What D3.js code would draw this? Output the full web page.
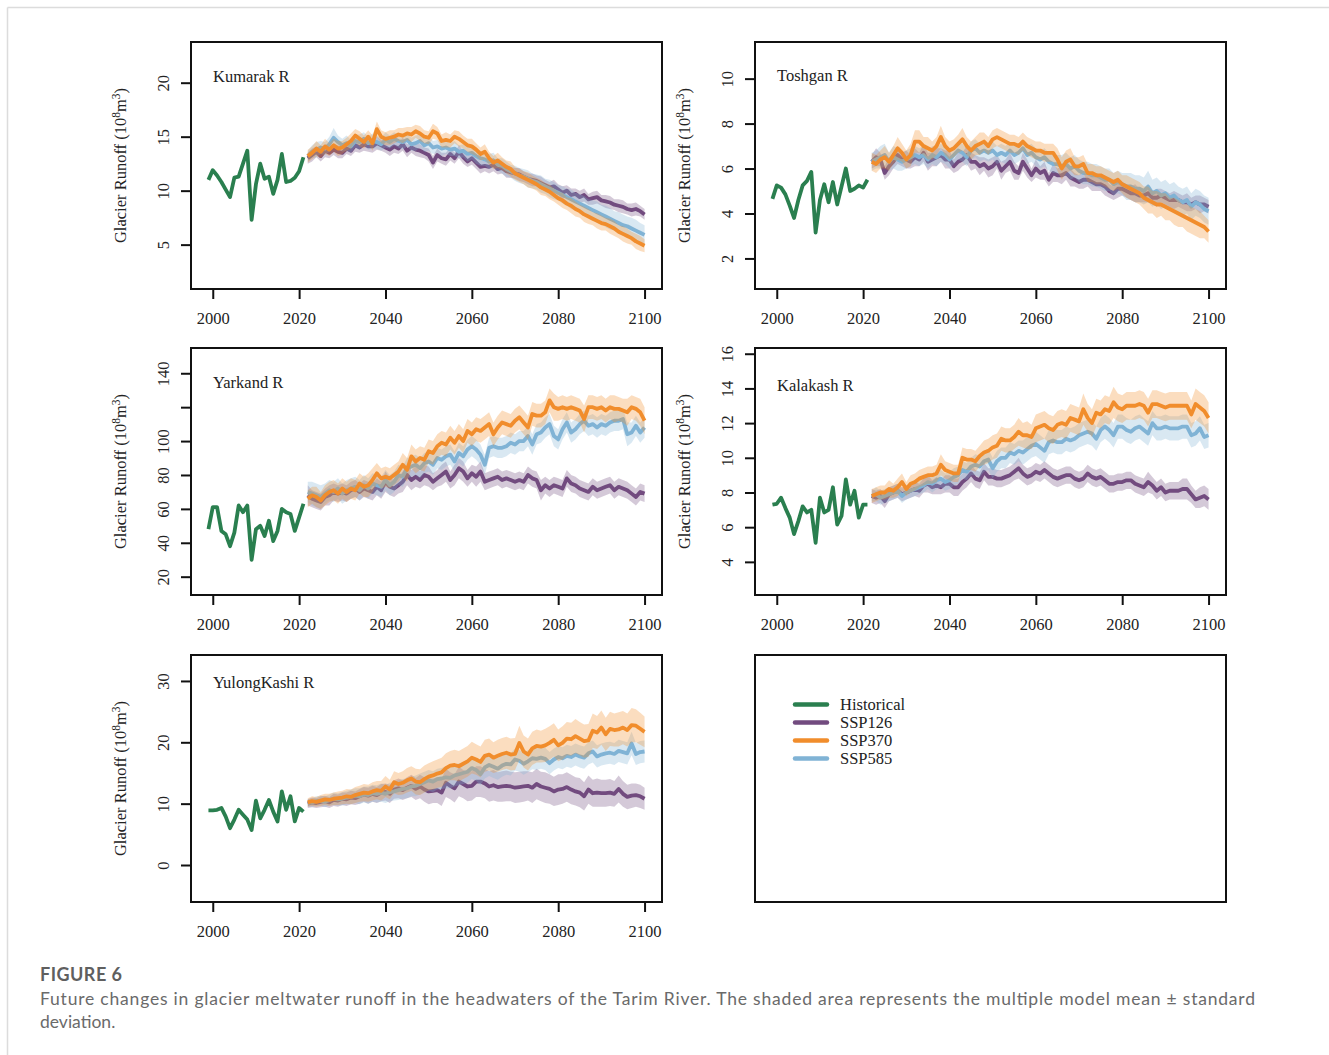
<!DOCTYPE html>
<html>
<head>
<meta charset="utf-8">
<script src="https://cdn.jsdelivr.net/npm/d3@7"></script>
<style>
  body { margin: 0; background: #fff; }
</style>
</head>
<body>
<div id="figure"></div>
<script>
// Years
const histYears = d3.range(1999, 2022);
const futureYears = d3.range(2022, 2101);
const xTicks = [2000, 2020, 2040, 2060, 2080, 2100];

const scenarios = ["SSP126", "SSP370", "SSP585"];
const legendLabels = ["Historical", "SSP126", "SSP370", "SSP585"];

// Kumarak R
const kumarakHist = [11.0, 11.9, 11.4, 10.8, 10.1, 9.4, 11.2, 11.3, 12.5, 13.7, 7.3, 10.6, 12.5, 11.1, 11.3, 9.7, 11.0, 13.4, 10.8, 10.9, 11.2, 11.8, 13.1];
const kumarak126 = [13.0, 13.3, 13.6, 13.2, 13.7, 13.5, 13.8, 13.6, 13.5, 13.9,
  13.7, 14.2, 14.0, 14.3, 14.1, 14.1, 14.4, 14.2, 14.0, 13.8,
  14.1, 13.9, 14.3, 13.7, 14.0, 13.8, 13.7, 13.5, 13.3, 12.6,
  13.3, 13.0, 12.9, 13.4, 13.0, 13.6, 13.1, 12.7, 13.0, 12.6,
  12.2, 12.3, 12.2, 12.4, 12.0, 12.1, 11.8, 11.7, 11.6, 11.5,
  11.3, 11.1, 11.0, 10.9, 10.7, 10.5, 10.3, 10.4, 10.1, 9.8,
  10.0, 9.6, 9.7, 9.4, 9.6, 9.2, 9.3, 9.4, 9.1, 9.0,
  8.9, 8.7, 8.6, 8.5, 8.3, 8.2, 8.3, 8.1, 7.8];
const kumarak370 = [13.2, 13.5, 13.9, 13.6, 14.1, 13.8, 14.2, 13.9, 14.0, 14.3,
  14.6, 15.1, 14.8, 14.5, 15.0, 14.4, 15.7, 15.0, 14.8, 14.9,
  15.0, 15.2, 15.1, 15.3, 15.2, 15.5, 15.3, 15.0, 14.9, 15.5,
  15.3, 14.6, 14.7, 14.6, 15.0, 14.8, 14.5, 14.2, 14.1, 13.8,
  13.4, 13.6, 13.0, 12.6, 12.8, 12.5, 12.2, 12.0, 11.6, 11.4,
  11.2, 11.0, 10.8, 10.6, 10.3, 10.1, 9.9, 9.6, 9.3, 9.1,
  8.8, 8.6, 8.3, 8.1, 7.8, 7.6, 7.4, 7.2, 7.0, 6.9,
  6.7, 6.5, 6.2, 6.0, 5.8, 5.6, 5.3, 5.1, 4.9];
const kumarak585 = [13.2, 13.6, 13.8, 14.0, 13.9, 14.3, 14.9, 14.5, 14.2, 14.4,
  14.1, 14.6, 14.5, 14.8, 14.4, 14.6, 14.5, 14.3, 14.7, 14.5,
  14.8, 14.6, 14.5, 14.7, 14.3, 14.4, 14.6, 14.2, 14.4, 14.0,
  14.1, 13.9, 14.0, 13.8, 13.9, 13.6, 13.7, 13.4, 13.5, 13.2,
  13.0, 12.9, 12.7, 12.8, 12.4, 12.3, 12.0, 11.8, 11.6, 11.4,
  11.3, 11.1, 10.9, 10.8, 10.6, 10.4, 10.2, 10.0, 9.8, 9.6,
  9.4, 9.2, 9.0, 8.8, 8.6, 8.4, 8.2, 8.0, 7.8, 7.6,
  7.4, 7.2, 7.0, 6.8, 6.7, 6.5, 6.3, 6.1, 5.9];
const kumarakSd126 = [0.5, 0.6, 0.5, 0.5, 0.6, 0.5, 0.5, 0.6, 0.5, 0.5,
  0.5, 0.6, 0.5, 0.6, 0.5, 0.6, 0.6, 0.5, 0.5, 0.6,
  0.6, 0.5, 0.6, 0.6, 0.5, 0.6, 0.6, 0.5, 0.6, 0.6,
  0.6, 0.5, 0.6, 0.6, 0.5, 0.6, 0.6, 0.5, 0.6, 0.6,
  0.6, 0.5, 0.6, 0.6, 0.5, 0.5, 0.6, 0.5, 0.5, 0.6,
  0.5, 0.5, 0.6, 0.5, 0.6, 0.5, 0.5, 0.6, 0.5, 0.6,
  0.5, 0.6, 0.5, 0.6, 0.6, 0.5, 0.6, 0.6, 0.5, 0.6,
  0.6, 0.5, 0.6, 0.6, 0.5, 0.6, 0.6, 0.5, 0.5];
const kumarakSd370 = [0.6, 0.6, 0.7, 0.6, 0.7, 0.6, 0.6, 0.7, 0.6, 0.6,
  0.7, 0.6, 0.7, 0.6, 0.6, 0.7, 0.7, 0.6, 0.6, 0.7,
  0.6, 0.6, 0.7, 0.6, 0.7, 0.6, 0.7, 0.6, 0.6, 0.7,
  0.6, 0.6, 0.7, 0.6, 0.6, 0.7, 0.6, 0.6, 0.7, 0.6,
  0.6, 0.7, 0.6, 0.6, 0.7, 0.6, 0.6, 0.7, 0.6, 0.6,
  0.6, 0.7, 0.6, 0.6, 0.7, 0.6, 0.7, 0.6, 0.6, 0.7,
  0.6, 0.7, 0.7, 0.6, 0.7, 0.7, 0.6, 0.7, 0.7, 0.6,
  0.7, 0.7, 0.6, 0.7, 0.7, 0.6, 0.7, 0.7, 0.6];
const kumarakSd585 = [0.5, 0.6, 0.7, 0.6, 0.6, 0.7, 0.9, 0.6, 0.6, 0.7,
  0.6, 0.6, 0.7, 0.6, 0.6, 0.7, 0.6, 0.6, 0.7, 0.6,
  0.6, 0.6, 0.7, 0.6, 0.6, 0.7, 0.6, 0.6, 0.7, 0.6,
  0.6, 0.7, 0.6, 0.6, 0.7, 0.6, 0.6, 0.7, 0.6, 0.7,
  0.7, 0.6, 0.7, 0.7, 0.6, 0.7, 0.7, 0.6, 0.7, 0.7,
  0.7, 0.8, 0.7, 0.7, 0.8, 0.7, 0.8, 0.8, 0.7, 0.8,
  0.8, 0.9, 0.8, 0.9, 0.9, 0.8, 0.9, 1.0, 0.9, 1.0,
  1.0, 0.9, 1.0, 1.0, 0.9, 1.0, 1.0, 0.9, 0.9];

// Toshgan R
const toshganHist = [4.65, 5.25, 5.15, 4.85, 4.35, 3.8, 4.6, 5.25, 5.45, 5.85, 3.15, 4.6, 5.3, 4.5, 5.4, 4.4, 5.2, 6.0, 5.0, 5.1, 5.25, 5.15, 5.5];
const toshgan126 = [6.3, 6.5, 6.4, 5.8, 6.1, 6.3, 6.6, 6.4, 6.4, 6.3,
  6.5, 6.4, 6.7, 6.3, 6.4, 6.5, 6.6, 6.4, 6.4, 6.1,
  6.3, 6.4, 6.6, 6.3, 6.3, 6.1, 6.2, 6.0, 6.1, 6.3,
  5.9, 6.1, 6.3, 5.9, 5.8, 6.3, 6.0, 5.7, 6.0, 5.8,
  5.9, 5.5, 5.8, 5.7, 5.7, 5.8, 5.6, 5.5, 5.4, 5.5,
  5.5, 5.4, 5.3, 5.3, 5.2, 5.0, 4.9, 5.1, 5.1, 5.0,
  4.9, 4.9, 4.8, 4.8, 4.9, 4.7, 4.7, 4.8, 4.7, 4.6,
  4.6, 4.6, 4.5, 4.5, 4.4, 4.5, 4.4, 4.4, 4.3];
const toshgan370 = [6.3, 6.2, 6.4, 6.5, 6.3, 6.6, 6.9, 6.7, 6.4, 6.6,
  7.2, 7.2, 7.0, 6.9, 6.8, 7.0, 7.4, 7.0, 6.8, 6.9,
  7.1, 7.3, 7.0, 6.8, 7.0, 7.1, 7.2, 7.0, 7.3, 7.4,
  7.3, 7.2, 7.1, 7.1, 7.0, 7.2, 7.0, 6.9, 6.8, 6.8,
  6.7, 6.7, 6.7, 6.4, 6.0, 6.3, 6.4, 6.1, 6.1, 6.2,
  5.8, 5.8, 5.7, 5.7, 5.6, 5.5, 5.4, 5.5, 5.3, 5.2,
  5.1, 5.0, 4.9, 4.7, 4.6, 4.5, 4.4, 4.4, 4.3, 4.2,
  4.1, 4.0, 3.9, 3.8, 3.7, 3.6, 3.5, 3.4, 3.2];
const toshgan585 = [6.3, 6.4, 6.5, 6.6, 6.3, 6.5, 6.4, 6.3, 6.4, 6.5,
  6.6, 6.5, 6.6, 6.4, 6.6, 6.5, 6.7, 6.6, 6.4, 6.6,
  6.8, 6.7, 6.5, 6.8, 6.9, 6.7, 6.8, 6.7, 6.8, 6.6,
  6.7, 6.6, 6.8, 6.6, 6.7, 6.9, 6.6, 6.7, 6.5, 6.4,
  6.5, 6.3, 6.2, 6.2, 6.1, 6.2, 6.0, 6.1, 5.9, 5.8,
  5.8, 5.7, 5.7, 5.6, 5.5, 5.5, 5.3, 5.4, 5.3, 5.2,
  5.2, 5.1, 5.1, 5.0, 5.2, 4.9, 5.0, 4.8, 4.9, 4.7,
  4.8, 4.6, 4.5, 4.6, 4.3, 4.5, 4.4, 4.2, 4.1];
const toshganSd126 = [0.3, 0.4, 0.3, 0.3, 0.4, 0.3, 0.4, 0.3, 0.4, 0.3,
  0.4, 0.3, 0.4, 0.4, 0.3, 0.4, 0.3, 0.4, 0.4, 0.3,
  0.4, 0.3, 0.4, 0.4, 0.3, 0.4, 0.3, 0.4, 0.4, 0.3,
  0.4, 0.3, 0.4, 0.4, 0.3, 0.4, 0.4, 0.3, 0.4, 0.3,
  0.4, 0.3, 0.4, 0.3, 0.4, 0.3, 0.4, 0.3, 0.3, 0.4,
  0.3, 0.4, 0.3, 0.3, 0.4, 0.3, 0.3, 0.4, 0.3, 0.3,
  0.3, 0.4, 0.3, 0.3, 0.4, 0.3, 0.4, 0.3, 0.3, 0.3,
  0.4, 0.3, 0.3, 0.4, 0.3, 0.3, 0.4, 0.3, 0.3];
const toshganSd370 = [0.4, 0.4, 0.4, 0.5, 0.4, 0.4, 0.5, 0.4, 0.4, 0.5,
  0.5, 0.5, 0.4, 0.5, 0.4, 0.4, 0.5, 0.4, 0.4, 0.4,
  0.4, 0.5, 0.4, 0.4, 0.4, 0.5, 0.4, 0.4, 0.4, 0.4,
  0.4, 0.4, 0.4, 0.4, 0.4, 0.4, 0.4, 0.4, 0.4, 0.4,
  0.4, 0.4, 0.4, 0.5, 0.5, 0.5, 0.5, 0.4, 0.4, 0.4,
  0.4, 0.4, 0.4, 0.4, 0.4, 0.4, 0.4, 0.4, 0.4, 0.5,
  0.5, 0.5, 0.5, 0.5, 0.6, 0.5, 0.6, 0.5, 0.6, 0.5,
  0.6, 0.6, 0.5, 0.6, 0.6, 0.6, 0.6, 0.5, 0.5];
const toshganSd585 = [0.4, 0.4, 0.5, 0.5, 0.4, 0.5, 0.5, 0.4, 0.4, 0.4,
  0.4, 0.4, 0.4, 0.4, 0.4, 0.4, 0.4, 0.4, 0.4, 0.4,
  0.4, 0.4, 0.4, 0.4, 0.4, 0.4, 0.4, 0.4, 0.4, 0.4,
  0.4, 0.4, 0.4, 0.4, 0.4, 0.4, 0.4, 0.4, 0.4, 0.4,
  0.4, 0.4, 0.4, 0.4, 0.5, 0.5, 0.5, 0.5, 0.5, 0.5,
  0.5, 0.5, 0.5, 0.5, 0.5, 0.5, 0.5, 0.5, 0.5, 0.6,
  0.6, 0.6, 0.6, 0.6, 0.7, 0.6, 0.6, 0.6, 0.6, 0.6,
  0.6, 0.6, 0.6, 0.6, 0.6, 0.6, 0.6, 0.6, 0.6];

// Yarkand R
const yarkandHist = [48, 61, 61, 47, 45, 38, 46, 62, 58, 62, 30, 48, 50, 44, 53, 41, 47, 60, 58, 57, 47, 55, 63];
const yarkand126 = [68, 66, 65, 64, 67, 68, 70, 69, 70, 69,
  71, 72, 70, 72, 71, 70, 73, 71, 76, 73,
  72, 74, 76, 80, 77, 79, 77, 80, 79, 76,
  78, 80, 82, 77, 80, 84, 82, 78, 81, 79,
  82, 76, 77, 78, 79, 77, 78, 77, 76, 77,
  76, 80, 78, 77, 71, 74, 72, 74, 73, 72,
  78, 75, 74, 72, 71, 70, 73, 71, 72, 73,
  74, 71, 73, 72, 71, 69, 67, 70, 69];
const yarkand370 = [66, 68, 67, 65, 68, 70, 71, 69, 72, 70,
  72, 71, 75, 73, 74, 77, 81, 78, 79, 78,
  80, 82, 86, 83, 91, 88, 90, 89, 94, 93,
  97, 99, 98, 102, 99, 103, 100, 106, 104, 107,
  106, 108, 110, 104, 108, 111, 110, 109, 112, 114,
  111, 108, 116, 115, 115, 117, 124, 120, 119, 120,
  119, 120, 119, 118, 113, 120, 120, 119, 120, 118,
  120, 119, 119, 118, 117, 120, 119, 117, 112];
const yarkand585 = [70, 69, 68, 67, 69, 71, 70, 72, 69, 71,
  72, 73, 71, 74, 72, 75, 74, 73, 77, 74,
  76, 80, 79, 84, 85, 86, 84, 87, 88, 86,
  90, 89, 91, 92, 88, 93, 91, 95, 97, 95,
  92, 86, 96, 97, 96, 96, 97, 99, 98, 100,
  100, 103, 98, 104, 105, 108, 110, 103, 101, 107,
  111, 105, 107, 110, 112, 109, 110, 108, 110, 109,
  111, 112, 112, 113, 104, 105, 109, 105, 108];
const yarkandSd126 = [6, 5, 5, 5, 5, 6, 5, 5, 5, 5,
  5, 5, 5, 5, 5, 5, 5, 5, 6, 5,
  5, 5, 6, 6, 6, 6, 5, 6, 6, 5,
  5, 6, 6, 5, 6, 6, 6, 5, 5, 6,
  6, 5, 5, 5, 5, 5, 5, 5, 5, 5,
  5, 5, 5, 5, 6, 5, 5, 5, 5, 5,
  5, 5, 5, 5, 5, 5, 5, 5, 5, 5,
  5, 5, 5, 5, 5, 5, 5, 5, 5];
const yarkandSd370 = [5, 5, 6, 5, 6, 6, 6, 6, 6, 6,
  6, 6, 6, 6, 7, 7, 6, 6, 6, 6,
  6, 6, 7, 7, 7, 7, 7, 7, 7, 7,
  7, 7, 7, 7, 7, 7, 7, 7, 7, 7,
  7, 7, 7, 7, 7, 7, 7, 7, 7, 7,
  7, 7, 7, 7, 7, 7, 7, 8, 7, 7,
  7, 7, 7, 7, 8, 7, 7, 7, 7, 7,
  7, 8, 7, 7, 8, 7, 7, 8, 8];
const yarkandSd585 = [6, 7, 7, 7, 6, 6, 6, 6, 6, 6,
  6, 6, 6, 6, 6, 6, 6, 6, 6, 6,
  6, 6, 6, 6, 6, 6, 6, 6, 6, 6,
  6, 6, 6, 6, 6, 6, 6, 6, 6, 6,
  6, 6, 6, 6, 6, 6, 6, 6, 6, 6,
  6, 6, 6, 6, 6, 6, 6, 6, 6, 6,
  6, 6, 6, 6, 6, 6, 6, 6, 6, 6,
  6, 6, 6, 6, 7, 6, 6, 6, 6];

// Kalakash R
const kalakashHist = [7.3, 7.35, 7.7, 7.1, 6.55, 5.6, 6.35, 7.2, 6.85, 7.0, 5.1, 7.7, 6.85, 7.0, 8.3, 6.15, 6.65, 8.75, 7.3, 8.1, 6.55, 7.3, 7.3];
const kalakash126 = [7.8, 7.7, 7.8, 7.5, 7.9, 8.0, 8.1, 7.9, 8.0, 8.1,
  8.2, 8.1, 8.4, 8.5, 8.3, 8.4, 8.3, 8.5, 8.5, 8.3,
  8.3, 8.6, 8.8, 9.1, 8.8, 8.7, 9.2, 8.9, 8.9, 8.8,
  8.8, 8.9, 9.0, 9.2, 9.4, 9.1, 8.9, 9.0, 9.2, 9.1,
  9.3, 9.1, 8.9, 8.8, 8.9, 9.0, 9.0, 8.8, 8.7, 8.8,
  9.1, 8.9, 8.8, 8.9, 8.7, 8.5, 8.5, 8.6, 8.6, 8.7,
  8.7, 8.5, 8.4, 8.3, 8.6, 8.4, 8.1, 8.3, 8.0, 8.1,
  8.1, 8.1, 8.2, 8.2, 7.9, 7.6, 7.7, 7.8, 7.6];
const kalakash370 = [7.8, 7.9, 8.0, 8.0, 8.2, 8.1, 8.3, 8.6, 8.2, 8.5,
  8.6, 8.8, 8.9, 9.0, 9.0, 9.1, 9.6, 9.3, 9.2, 9.1,
  9.1, 10.0, 9.9, 9.9, 9.8, 10.1, 10.3, 10.4, 10.6, 10.7,
  11.1, 11.0, 11.0, 11.2, 11.5, 11.3, 11.3, 11.2, 11.7, 11.8,
  11.9, 11.7, 11.6, 11.9, 12.0, 11.9, 12.3, 12.2, 12.1, 12.8,
  12.3, 12.0, 12.6, 12.5, 12.8, 12.7, 13.2, 12.9, 12.8, 13.0,
  13.0, 13.0, 13.1, 13.0, 12.6, 13.1, 13.1, 13.0, 12.9, 13.0,
  13.0, 13.0, 13.0, 13.0, 12.5, 13.1, 12.9, 12.7, 12.3];
const kalakash585 = [7.8, 7.9, 7.7, 7.8, 7.9, 8.0, 8.1, 7.8, 8.0, 8.1,
  8.2, 8.3, 8.4, 8.6, 8.5, 8.7, 8.8, 8.6, 8.7, 8.9,
  9.0, 9.3, 9.2, 9.5, 9.6, 9.5, 9.8, 9.9, 9.4, 9.8,
  10.0, 10.0, 10.3, 10.2, 10.4, 10.3, 10.5, 10.7, 10.8, 10.6,
  10.4, 10.9, 11.0, 10.9, 10.9, 11.1, 11.0, 11.1, 11.3, 11.4,
  11.5, 11.4, 11.1, 11.6, 11.8, 11.6, 11.3, 11.8, 11.8, 11.6,
  11.5, 11.7, 11.8, 11.6, 11.4, 12.0, 11.7, 11.7, 11.8, 11.7,
  11.7, 11.7, 11.8, 11.8, 11.3, 11.4, 11.7, 11.2, 11.3];
const kalakashSd126 = [0.4, 0.4, 0.4, 0.4, 0.4, 0.4, 0.4, 0.4, 0.4, 0.4,
  0.4, 0.4, 0.4, 0.5, 0.4, 0.5, 0.4, 0.5, 0.5, 0.5,
  0.5, 0.5, 0.5, 0.5, 0.5, 0.5, 0.5, 0.5, 0.5, 0.5,
  0.5, 0.5, 0.5, 0.5, 0.6, 0.5, 0.5, 0.5, 0.5, 0.5,
  0.5, 0.5, 0.5, 0.5, 0.5, 0.5, 0.5, 0.5, 0.5, 0.5,
  0.5, 0.5, 0.5, 0.5, 0.5, 0.5, 0.5, 0.5, 0.5, 0.5,
  0.5, 0.5, 0.5, 0.5, 0.6, 0.5, 0.5, 0.5, 0.5, 0.5,
  0.5, 0.5, 0.6, 0.6, 0.5, 0.5, 0.6, 0.6, 0.6];
const kalakashSd370 = [0.4, 0.4, 0.4, 0.4, 0.5, 0.4, 0.5, 0.5, 0.4, 0.5,
  0.5, 0.5, 0.5, 0.5, 0.5, 0.5, 0.6, 0.5, 0.5, 0.5,
  0.5, 0.6, 0.6, 0.6, 0.6, 0.6, 0.7, 0.7, 0.7, 0.7,
  0.7, 0.7, 0.7, 0.7, 0.8, 0.7, 0.8, 0.7, 0.8, 0.8,
  0.8, 0.8, 0.8, 0.8, 0.8, 0.8, 0.8, 0.8, 0.8, 0.9,
  0.8, 0.8, 0.8, 0.8, 0.8, 0.8, 0.9, 0.8, 0.8, 0.8,
  0.8, 0.8, 0.8, 0.8, 0.8, 0.8, 0.8, 0.8, 0.8, 0.8,
  0.8, 0.8, 0.8, 0.8, 0.8, 0.9, 0.9, 0.9, 0.9];
const kalakashSd585 = [0.3, 0.4, 0.4, 0.4, 0.4, 0.4, 0.4, 0.4, 0.4, 0.4,
  0.4, 0.4, 0.4, 0.4, 0.5, 0.5, 0.5, 0.5, 0.5, 0.5,
  0.5, 0.5, 0.5, 0.5, 0.6, 0.6, 0.6, 0.6, 0.6, 0.6,
  0.6, 0.6, 0.6, 0.6, 0.6, 0.7, 0.7, 0.7, 0.7, 0.7,
  0.7, 0.7, 0.7, 0.7, 0.7, 0.7, 0.7, 0.7, 0.7, 0.7,
  0.7, 0.7, 0.7, 0.7, 0.7, 0.7, 0.7, 0.7, 0.7, 0.7,
  0.7, 0.7, 0.7, 0.7, 0.7, 0.7, 0.7, 0.7, 0.7, 0.7,
  0.7, 0.7, 0.7, 0.7, 0.7, 0.7, 0.7, 0.7, 0.7];

// YulongKashi R
const yulongHist = [8.9, 8.9, 9.0, 9.3, 7.9, 6.0, 7.4, 9.0, 8.2, 7.4, 5.7, 10.5, 7.6, 9.0, 10.6, 8.7, 7.1, 12.0, 9.0, 11.2, 7.1, 9.3, 8.7];
const yulong126 = [10.0, 10.2, 10.1, 10.3, 10.4, 10.2, 10.6, 10.5, 10.8, 10.7,
  11.0, 10.9, 11.2, 11.5, 11.3, 11.6, 11.4, 11.8, 11.9, 11.6,
  12.3, 12.5, 12.2, 12.6, 12.9, 12.4, 12.8, 12.3, 12.0, 12.1,
  12.2, 11.8, 13.4, 12.9, 12.5, 13.6, 13.2, 12.8, 12.9, 13.6,
  13.6, 13.3, 12.8, 13.0, 12.7, 12.8, 12.9, 12.8, 12.6, 12.7,
  12.8, 12.9, 12.6, 13.2, 12.8, 12.6, 12.4, 12.0, 12.3, 12.4,
  12.7, 12.3, 12.0, 11.8, 11.2, 12.3, 11.7, 11.8, 11.7, 11.7,
  11.8, 11.6, 12.4, 11.6, 11.1, 11.3, 11.4, 11.2, 10.8];
const yulong370 = [10.2, 10.4, 10.3, 10.5, 10.7, 10.6, 10.8, 10.9, 11.0, 11.2,
  11.1, 11.4, 11.6, 11.8, 11.7, 12.0, 12.2, 12.1, 12.8, 12.3,
  13.5, 13.2, 13.4, 13.8, 14.1, 13.6, 13.5, 14.0, 14.4, 14.6,
  14.9, 15.1, 15.8, 16.2, 16.3, 16.1, 16.5, 16.9, 17.5, 17.2,
  16.8, 17.8, 18.0, 17.5, 17.8, 18.1, 18.3, 18.0, 18.1, 19.9,
  18.5, 18.0, 19.0, 19.4, 19.3, 19.5, 19.9, 20.4, 19.5, 19.9,
  20.6, 20.5, 21.0, 20.6, 20.2, 20.3, 21.9, 21.6, 22.4, 21.3,
  22.2, 22.0, 22.1, 22.4, 22.0, 22.8, 22.7, 22.2, 21.7];
const yulong585 = [10.1, 10.2, 10.4, 10.5, 10.3, 10.6, 10.8, 10.7, 10.8, 11.0,
  11.1, 11.3, 11.2, 11.5, 11.4, 11.7, 11.6, 11.8, 11.6, 11.9,
  12.0, 12.2, 12.4, 12.5, 12.8, 12.9, 13.2, 13.5, 13.8, 13.6,
  14.0, 14.1, 14.3, 14.2, 14.6, 14.8, 15.0, 15.2, 15.8, 15.5,
  14.8, 15.9, 16.3, 16.0, 15.7, 16.2, 16.5, 16.4, 17.2, 17.0,
  16.5, 16.9, 17.4, 17.3, 17.5, 17.3, 16.6, 17.2, 17.6, 17.4,
  17.8, 17.6, 18.0, 17.7, 17.5, 18.2, 18.5, 17.7, 18.0, 18.2,
  18.3, 18.1, 18.6, 18.4, 18.2, 19.8, 18.1, 18.4, 18.5];
const yulongSd126 = [0.7, 0.8, 0.8, 0.9, 0.9, 0.9, 1.0, 1.0, 1.0, 1.1,
  1.1, 1.1, 1.2, 1.2, 1.3, 1.3, 1.3, 1.4, 1.4, 1.5,
  1.5, 1.6, 1.6, 1.7, 1.8, 1.8, 1.9, 2.0, 2.1, 2.0,
  2.1, 2.2, 2.3, 2.2, 2.3, 2.4, 2.3, 2.4, 2.4, 2.5,
  2.5, 2.4, 2.5, 2.5, 2.4, 2.5, 2.5, 2.4, 2.5, 2.5,
  2.5, 2.4, 2.5, 2.5, 2.4, 2.5, 2.4, 2.4, 2.5, 2.4,
  2.4, 2.4, 2.3, 2.4, 2.3, 2.3, 2.2, 2.3, 2.2, 2.2,
  2.2, 2.1, 2.2, 2.1, 2.0, 2.0, 1.9, 1.9, 1.8];
const yulongSd370 = [0.7, 0.8, 0.8, 0.9, 0.9, 1.0, 1.0, 1.1, 1.1, 1.2,
  1.2, 1.3, 1.3, 1.4, 1.4, 1.5, 1.5, 1.6, 1.7, 1.6,
  1.8, 1.8, 1.9, 2.0, 2.0, 2.1, 2.1, 2.2, 2.2, 2.3,
  2.3, 2.4, 2.4, 2.4, 2.5, 2.5, 2.5, 2.5, 2.6, 2.5,
  2.5, 2.6, 2.6, 2.5, 2.6, 2.6, 2.6, 2.6, 2.6, 2.8,
  2.6, 2.6, 2.7, 2.7, 2.6, 2.7, 2.7, 2.7, 2.6, 2.7,
  2.7, 2.7, 2.8, 2.7, 2.7, 2.7, 2.8, 2.7, 2.8, 2.7,
  2.8, 2.7, 2.8, 2.7, 2.7, 2.8, 2.7, 2.6, 2.5];
const yulongSd585 = [0.6, 0.7, 0.8, 0.8, 0.9, 0.9, 1.0, 1.0, 1.1, 1.1,
  1.2, 1.2, 1.3, 1.3, 1.4, 1.4, 1.4, 1.5, 1.5, 1.5,
  1.5, 1.6, 1.6, 1.6, 1.6, 1.7, 1.7, 1.7, 1.7, 1.7,
  1.7, 1.7, 1.8, 1.7, 1.8, 1.8, 1.8, 1.8, 1.8, 1.8,
  1.8, 1.8, 1.8, 1.8, 1.8, 1.8, 1.8, 1.8, 1.8, 1.8,
  1.8, 1.8, 1.8, 1.8, 1.8, 1.8, 1.8, 1.8, 1.8, 1.8,
  1.8, 1.8, 1.8, 1.8, 1.8, 1.8, 1.8, 1.8, 1.8, 1.8,
  1.8, 1.8, 1.8, 1.8, 1.8, 1.9, 1.8, 1.8, 1.8];

const colors = { Historical: "#2a7f4f", SSP126: "#724b7f", SSP370: "#f18d2c", SSP585: "#80b3d5" };
const serif = "'Liberation Serif', 'Times New Roman', serif";

// Panel table built from the arrays above
const panels = [
  { name: "Kumarak R", col: 0, row: 0, hist: kumarakHist, yDomain: [0.89, 23.77], yTicks: [5, 10, 15, 20], hideLabels: [], nameDy: 39.5,
    series: { SSP126: [kumarak126, kumarakSd126], SSP370: [kumarak370, kumarakSd370], SSP585: [kumarak585, kumarakSd585] } },
  { name: "Toshgan R", col: 1, row: 0, hist: toshganHist, yDomain: [0.64, 11.63], yTicks: [2, 4, 6, 8, 10], hideLabels: [], nameDy: 38.5,
    series: { SSP126: [toshgan126, toshganSd126], SSP370: [toshgan370, toshganSd370], SSP585: [toshgan585, toshganSd585] } },
  { name: "Yarkand R", col: 0, row: 1, hist: yarkandHist, yDomain: [9.2, 154.9], yTicks: [20, 40, 60, 80, 100, 120, 140], hideLabels: [120], nameDy: 40,
    series: { SSP126: [yarkand126, yarkandSd126], SSP370: [yarkand370, yarkandSd370], SSP585: [yarkand585, yarkandSd585] } },
  { name: "Kalakash R", col: 1, row: 1, hist: kalakashHist, yDomain: [2.09, 16.33], yTicks: [4, 6, 8, 10, 12, 14, 16], hideLabels: [], nameDy: 42.5,
    series: { SSP126: [kalakash126, kalakashSd126], SSP370: [kalakash370, kalakashSd370], SSP585: [kalakash585, kalakashSd585] } },
  { name: "YulongKashi R", col: 0, row: 2, hist: yulongHist, yDomain: [-6.03, 34.23], yTicks: [0, 10, 20, 30], hideLabels: [], nameDy: 33,
    series: { SSP126: [yulong126, yulongSd126], SSP370: [yulong370, yulongSd370], SSP585: [yulong585, yulongSd585] } }
];

const width = 1329, height = 1055;
const colX = [191, 755], rowY = [42, 348, 655];
const boxW = 471, boxH = 247;
const drawOrder = ["SSP126", "SSP585", "SSP370"];

const svg = d3.select("#figure")
    .append("svg")
    .attr("width", width)
    .attr("height", height);

// Light page frame (top and left edges)
svg.append("line").attr("x1", 7.5).attr("y1", 7.5).attr("x2", width).attr("y2", 7.5)
    .attr("stroke", "#dcdcdc").attr("stroke-width", 1.5);
svg.append("line").attr("x1", 7.5).attr("y1", 7.5).attr("x2", 7.5).attr("y2", height)
    .attr("stroke", "#dcdcdc").attr("stroke-width", 1.5);

panels.forEach(p => {
  const x0 = colX[p.col], y0 = rowY[p.row];
  const g = svg.append("g");

  const x = d3.scaleLinear().domain([1994.96, 2104.04]).range([x0, x0 + boxW]);
  const y = d3.scaleLinear().domain(p.yDomain).range([y0 + boxH, y0]);

  // Shaded bands and mean lines, one scenario at a time
  drawOrder.forEach(s => {
    const [mean, sd] = p.series[s];
    const area = d3.area()
        .x((d, i) => x(futureYears[i]))
        .y0((d, i) => y(d - sd[i]))
        .y1((d, i) => y(d + sd[i]));
    g.append("path")
        .datum(mean)
        .attr("d", area)
        .attr("fill", colors[s])
        .attr("fill-opacity", 0.3);
    g.append("path")
        .datum(mean)
        .attr("d", d3.line().x((d, i) => x(futureYears[i])).y(d => y(d)))
        .attr("fill", "none")
        .attr("stroke", colors[s])
        .attr("stroke-width", 3.8)
        .attr("stroke-linejoin", "round");
  });

  g.append("path")
      .datum(p.hist)
      .attr("d", d3.line().x((d, i) => x(histYears[i])).y(d => y(d)))
      .attr("fill", "none")
      .attr("stroke", colors.Historical)
      .attr("stroke-width", 3.8)
      .attr("stroke-linejoin", "round");

  // Box
  g.append("rect")
      .attr("x", x0).attr("y", y0)
      .attr("width", boxW).attr("height", boxH)
      .attr("fill", "none")
      .attr("stroke", "#111")
      .attr("stroke-width", 2);

  // X axis
  const xAxis = g.append("g")
      .attr("transform", `translate(0,${y0 + boxH})`)
      .call(d3.axisBottom(x).tickValues(xTicks).tickSize(10).tickPadding(13).tickFormat(d3.format("d")));
  xAxis.select(".domain").remove();

  // Y axis with labels parallel to the axis
  const yAxis = g.append("g")
      .attr("transform", `translate(${x0},0)`)
      .call(d3.axisLeft(y).tickValues(p.yTicks).tickSize(10).tickFormat(d => p.hideLabels.includes(d) ? "" : d));
  yAxis.select(".domain").remove();
  yAxis.selectAll("text")
      .attr("transform", "rotate(-90)")
      .attr("x", 0)
      .attr("y", -22)
      .attr("dy", null)
      .attr("text-anchor", "middle");

  g.selectAll(".tick line").attr("stroke", "#111").attr("stroke-width", 2);
  g.selectAll(".tick text")
      .attr("font-family", serif)
      .attr("font-size", 16.5)
      .attr("fill", "#222");

  // Y title
  const title = g.append("text")
      .attr("transform", `translate(${x0 - 65},${y0 + boxH / 2}) rotate(-90)`)
      .attr("text-anchor", "middle")
      .attr("font-family", serif)
      .attr("font-size", 16.5)
      .attr("fill", "#222");
  title.append("tspan").text("Glacier Runoff (10");
  title.append("tspan").attr("font-size", 11.5).attr("dy", -6).text("8");
  title.append("tspan").attr("dy", 6).text("m");
  title.append("tspan").attr("font-size", 11.5).attr("dy", -6).text("3");
  title.append("tspan").attr("dy", 6).text(")");

  // River name
  g.append("text")
      .attr("x", x0 + 22)
      .attr("y", y0 + p.nameDy)
      .attr("font-family", serif)
      .attr("font-size", 16.5)
      .attr("fill", "#222")
      .text(p.name);
});

// Legend panel
const lx0 = colX[1], ly0 = rowY[2];
svg.append("rect")
    .attr("x", lx0).attr("y", ly0)
    .attr("width", boxW).attr("height", boxH)
    .attr("fill", "none")
    .attr("stroke", "#111")
    .attr("stroke-width", 2);

const legend = svg.selectAll(".legend-item")
    .data(legendLabels)
    .enter()
    .append("g")
    .attr("class", "legend-item")
    .attr("transform", (d, i) => `translate(${lx0 + 40},${ly0 + 49.5 + i * 18})`);

legend.append("line")
    .attr("x1", 0).attr("x2", 32)
    .attr("stroke", d => colors[d])
    .attr("stroke-width", 4.5)
    .attr("stroke-linecap", "round");

legend.append("text")
    .attr("x", 45)
    .attr("y", 5.5)
    .attr("font-family", serif)
    .attr("font-size", 16.5)
    .attr("fill", "#222")
    .text(d => d);

// Caption
svg.append("text")
    .attr("x", 40).attr("y", 981)
    .attr("font-family", "Lato, 'Open Sans', sans-serif")
    .attr("font-size", 18)
    .attr("font-weight", 700)
    .attr("fill", "#5f5f5f")
    .attr("textLength", 82)
    .attr("lengthAdjust", "spacing")
    .text("FIGURE 6");

const caption = svg.append("text")
    .attr("font-family", "Lato, 'Open Sans', sans-serif")
    .attr("font-size", 17.5)
    .attr("fill", "#6a6a6a");
caption.append("tspan").attr("x", 40).attr("y", 1005)
    .attr("textLength", 1215)
    .attr("lengthAdjust", "spacing")
    .text("Future changes in glacier meltwater runoff in the headwaters of the Tarim River. The shaded area represents the multiple model mean \u00b1 standard");
caption.append("tspan").attr("x", 40).attr("y", 1028)
    .text("deviation.");
</script>
</body>
</html>
